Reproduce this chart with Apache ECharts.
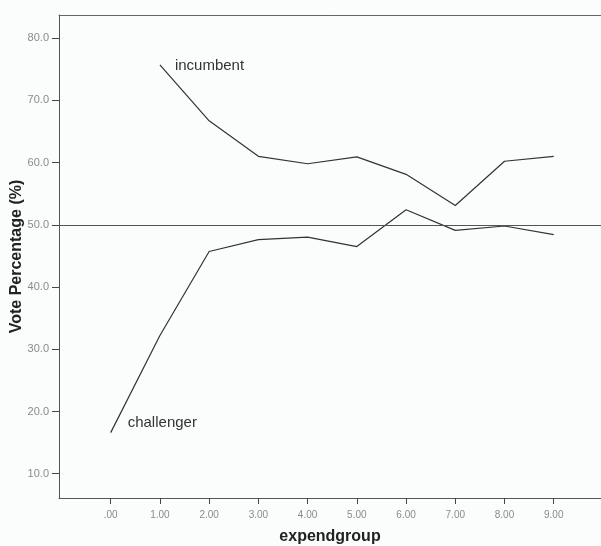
<!DOCTYPE html>
<html>
<head>
<meta charset="utf-8">
<script src="https://cdn.jsdelivr.net/npm/echarts@6/dist/echarts.min.js"></script>
<style>
html,body{margin:0;padding:0;background:#fbfdfd;}
#chart{width:601px;height:546px;}
</style>
</head>
<body>
<div id="chart"></div>
<script>
var groups = [0, 1, 2, 3, 4, 5, 6, 7, 8, 9];
var xTickLabels = ['.00', '1.00', '2.00', '3.00', '4.00', '5.00', '6.00', '7.00', '8.00', '9.00'];
var yTicks = [10, 20, 30, 40, 50, 60, 70, 80];
var incumbent = [null, 75.7, 66.7, 61.0, 59.8, 60.9, 58.1, 53.1, 60.2, 61.0];
var challenger = [16.6, 32.2, 45.7, 47.6, 48.0, 46.5, 52.4, 49.1, 49.8, 48.4];
var referenceLine = 50;

var lineColor = '#333333';
var labelFont = 'Liberation Sans, Arial, sans-serif';

function buildData(values) {
  var out = [];
  for (var i = 0; i < groups.length; i++) {
    if (values[i] === null) continue;
    out.push([groups[i], values[i]]);
  }
  return out;
}

function seriesLabel(values, idx, text, dx, dy) {
  return {
    symbol: 'rect',
    symbolSize: 0,
    silent: true,
    label: {
      show: true,
      formatter: text,
      position: 'right',
      distance: dx,
      offset: [0, dy],
      color: '#333',
      fontSize: 15,
      fontFamily: labelFont
    },
    data: [{ coord: [groups[idx], values[idx]] }]
  };
}

var chart = echarts.init(document.getElementById('chart'));
chart.setOption({
  backgroundColor: '#fbfdfd',
  animation: false,
  grid: { left: 59, top: 15, right: 0, bottom: 48, outerBoundsMode: 'none', containLabel: false },
  xAxis: [{
    type: 'value',
    min: -1.05,
    max: 9.96,
    name: 'expendgroup',
    nameLocation: 'middle',
    nameGap: 31,
    nameMoveOverlap: false,
    nameTextStyle: { fontWeight: 'bold', fontSize: 16, color: '#222', fontFamily: labelFont },
    axisLine: { show: true, onZero: false, lineStyle: { color: '#555', width: 1 } },
    axisTick: { show: true, length: 6, lineStyle: { color: '#444' }, customValues: groups },
    axisLabel: {
      color: '#8a8a8a', fontSize: 10, margin: 12, fontFamily: labelFont,
      customValues: groups,
      formatter: function (v) { return xTickLabels[groups.indexOf(Math.round(v))] || ''; }
    },
    splitLine: { show: false }
  }, {
    type: 'value',
    position: 'top',
    min: -1.05,
    max: 9.96,
    axisLine: { show: true, onZero: false, lineStyle: { color: '#666', width: 1 } },
    axisTick: { show: false },
    axisLabel: { show: false },
    splitLine: { show: false }
  }],
  yAxis: {
    type: 'value',
    min: 6.1,
    max: 83.7,
    name: 'Vote Percentage (%)',
    nameLocation: 'middle',
    nameGap: 34,
    nameMoveOverlap: false,
    nameTextStyle: { fontWeight: 'bold', fontSize: 16, color: '#222', fontFamily: labelFont },
    axisLine: { show: true, onZero: false, lineStyle: { color: '#555', width: 1 } },
    axisTick: { show: true, length: 7, lineStyle: { color: '#444' }, customValues: yTicks },
    axisLabel: {
      color: '#8a8a8a', fontSize: 11, margin: 10, fontFamily: labelFont,
      customValues: yTicks,
      formatter: function (v) { return v.toFixed(1); }
    },
    splitLine: { show: false }
  },
  series: [{
    name: 'incumbent',
    type: 'line',
    data: buildData(incumbent),
    showSymbol: false,
    lineStyle: { color: lineColor, width: 1.2 },
    markPoint: seriesLabel(incumbent, 1, 'incumbent', 15, 1),
    markLine: {
      silent: true,
      symbol: 'none',
      label: { show: false },
      lineStyle: { color: '#4a5560', width: 1, type: 'solid' },
      data: [{ yAxis: referenceLine }]
    }
  }, {
    name: 'challenger',
    type: 'line',
    data: buildData(challenger),
    showSymbol: false,
    lineStyle: { color: lineColor, width: 1.2 },
    markPoint: seriesLabel(challenger, 0, 'challenger', 17, -10)
  }]
});
</script>
</body>
</html>
